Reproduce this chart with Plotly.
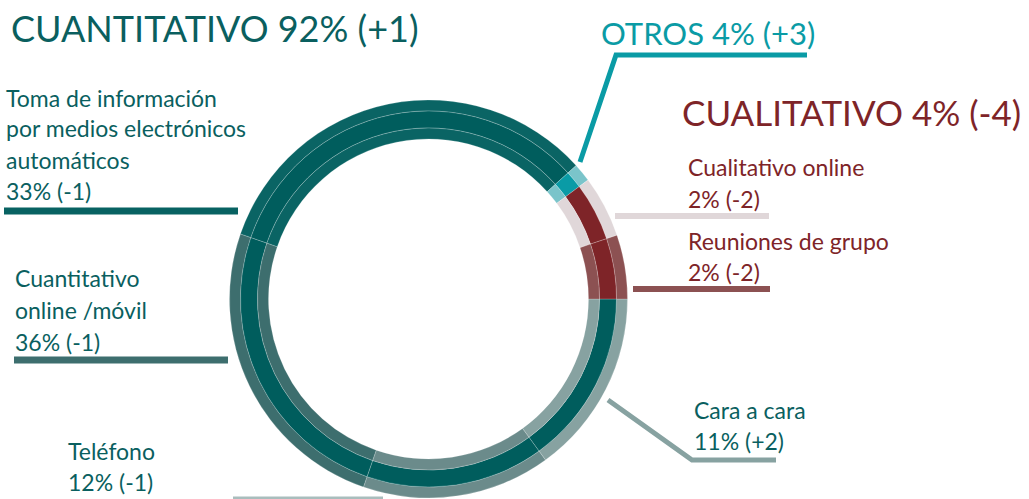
import plotly.graph_objects as go

# ---------------- data ----------------
categories = ["Cara a cara", "Teléfono", "Cuantitativo online /móvil",
              "Toma de información por medios electrónicos automáticos",
              "Otros", "Cualitativo online", "Reuniones de grupo"]
groups = ["Cuantitativo", "Cuantitativo", "Cuantitativo", "Cuantitativo",
          "Otros", "Cualitativo", "Cualitativo"]
# share of the circle each segment occupies as drawn in the picture
arc_share = [15.0, 15.3, 25.0, 33.0, 1.5, 5.0, 5.2]
# printed percentages and changes
pct_labels = ["11%", "12%", "36%", "33%", "4%", "2%", "2%"]
delta_labels = ["(+2)", "(-1)", "(-1)", "(-1)", "(+3)", "(-2)", "(-2)"]
group_names = ["CUANTITATIVO", "CUALITATIVO", "OTROS"]
group_pct = ["92%", "4%", "4%"]
group_delta = ["(+1)", "(-4)", "(+3)"]

# ---------------- style ----------------
W, H = 1029, 499
sub_colors = ["#87A2A1", "#6B8B8B", "#3D6E6E", "#0A6464",
              "#7AC4CA", "#E0D7D9", "#8C5152"]
group_colors = {"Cuantitativo": "#005D5D", "Otros": "#0A9BA6", "Cualitativo": "#7E2428"}
mid_colors = [group_colors[g] for g in groups]
TEAL, CYAN, RED = "#0A5F5F", "#0A9BA5", "#7E2428"
FONT = "Lato"

cx, cy = 428.5, 299.0
r_out, r_b1, r_b2, r_in = 199.0, 188.0, 171.0, 160.0


def dom(r):
    return dict(x=[(cx - r) / W, (cx + r) / W], y=[(H - cy - r) / H, (H - cy + r) / H])


def ring(r, hole, colors):
    return go.Pie(values=arc_share, labels=categories, sort=False, direction="clockwise",
                  rotation=90, hole=hole, domain=dom(r), textinfo="none",
                  hoverinfo="skip", showlegend=False,
                  marker=dict(colors=colors, line=dict(color="rgba(255,255,255,0.35)", width=0.6)))


fig = go.Figure()
fig.add_trace(ring(r_out, r_b1 / r_out, sub_colors))
fig.add_trace(ring(r_b1, r_b2 / r_b1, mid_colors))
fig.add_trace(ring(r_b2, r_in / r_b2, sub_colors))


def px(x, y):
    return x / W, 1 - y / H


def text(x, y, s, size, color):
    xx, yy = px(x, y)
    fig.add_annotation(x=xx, y=yy, xref="paper", yref="paper", text=s, showarrow=False,
                       xanchor="left", yanchor="middle", font=dict(family=FONT, size=size, color=color))


def line(pts, color, width):
    path = "M " + " L ".join(f"{px(a, b)[0]:.5f},{px(a, b)[1]:.5f}" for a, b in pts)
    fig.add_shape(type="path", path=path, xref="paper", yref="paper",
                  line=dict(color=color, width=width), layer="above")


# group titles
text(9, 28, f"{group_names[0]} {group_pct[0]} {group_delta[0]}", 36, TEAL)
text(680, 112, f"{group_names[1]} {group_pct[1]} {group_delta[1]}", 35, RED)
text(599, 33, f"{group_names[2]} {group_pct[2]} {group_delta[2]}", 31, CYAN)

BS = 23
# Toma de información
text(4, 98, "Toma de información", BS, TEAL)
text(4, 128, "por medios electrónicos", BS, TEAL)
text(4, 160, "automáticos", BS, TEAL)
text(4, 191, f"{pct_labels[3]} {delta_labels[3]}", BS, TEAL)
# Cuantitativo online
text(13, 278, "Cuantitativo", BS, TEAL)
text(13, 310, "online /móvil", BS, TEAL)
text(13, 342, f"{pct_labels[2]} {delta_labels[2]}", BS, TEAL)
# Teléfono
text(66, 451, "Teléfono", BS, TEAL)
text(66, 482, f"{pct_labels[1]} {delta_labels[1]}", BS, TEAL)
# Cara a cara
text(692, 410, "Cara a cara", BS, TEAL)
text(692, 441, f"{pct_labels[0]} {delta_labels[0]}", BS, TEAL)
# Cualitativo online
text(686, 167, "Cualitativo online", BS, RED)
text(686, 199, f"{pct_labels[5]} {delta_labels[5]}", BS, RED)
# Reuniones de grupo
text(686, 241, "Reuniones de grupo", BS, RED)
text(686, 272, f"{pct_labels[6]} {delta_labels[6]}", BS, RED)

# leader lines
line([(580, 162), (616, 55), (807, 55)], CYAN, 5)
line([(615, 216), (769, 216)], "#E0D7D9", 6)
line([(633, 289), (770, 289)], "#8C5152", 6)
line([(608, 400), (692, 460), (776, 460)], "#87A2A1", 5)
line([(4, 211), (238, 211)], "#086262", 7)
line([(14, 360), (228, 360)], "#3D6E6E", 7)
line([(233, 498), (383, 498)], "#A9BDBD", 3)

fig.update_layout(width=W, height=H, margin=dict(l=0, r=0, t=0, b=0),
                  paper_bgcolor="white", plot_bgcolor="white")

fig.write_html("out.html", config={"displayModeBar": False},
               post_script="document.body.style.margin='0';document.body.style.overflow='hidden';")
